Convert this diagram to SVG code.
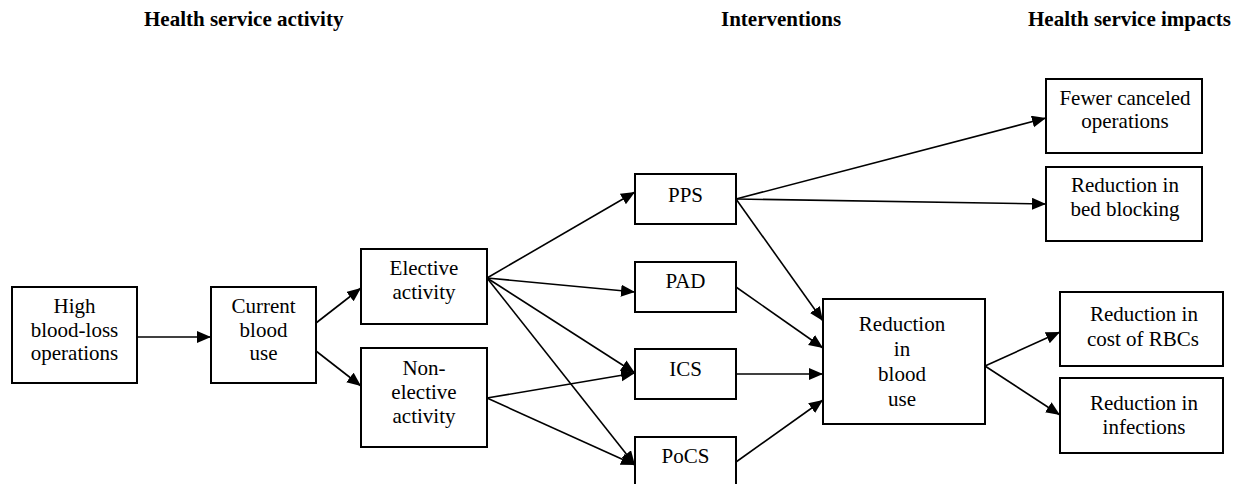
<svg xmlns="http://www.w3.org/2000/svg" width="1244" height="484" viewBox="0 0 1244 484">
<style>
  .box { fill: #fff; stroke: #000; stroke-width: 2; }
  .t { font-family: "Liberation Serif", "Times New Roman", serif; font-size: 21px; fill: #000; text-anchor: middle; }
  .h { font-family: "Liberation Serif", "Times New Roman", serif; font-size: 21px; font-weight: bold; fill: #000; }
  .c { stroke: #000; stroke-width: 1.6; fill: none; marker-end: url(#arr); }
</style>
<defs>
  <marker id="arr" markerUnits="userSpaceOnUse" markerWidth="15" markerHeight="13" refX="14" refY="6" orient="auto">
    <path d="M0,0 L14,6 L0,12 z" fill="#000"/>
  </marker>
</defs>
<rect width="1244" height="484" fill="#fff"/>
<g id="headers">
  <text class="h" x="144" y="26">Health service activity</text>
  <text class="h" x="721" y="26">Interventions</text>
  <text class="h" x="1028" y="26">Health service impacts</text>
</g>
<g id="connectors">
  <line class="c" x1="137" y1="337" x2="211" y2="337"/>
  <line class="c" x1="316" y1="323" x2="361" y2="288"/>
  <line class="c" x1="316" y1="351" x2="361" y2="386"/>
  <line class="c" x1="487" y1="278" x2="635" y2="192"/>
  <line class="c" x1="487" y1="278" x2="635" y2="292"/>
  <line class="c" x1="487" y1="278" x2="635" y2="373"/>
  <line class="c" x1="487" y1="278" x2="635" y2="465"/>
  <line class="c" x1="487" y1="398" x2="635" y2="373"/>
  <line class="c" x1="487" y1="398" x2="635" y2="465"/>
  <line class="c" x1="736" y1="199" x2="1046" y2="118"/>
  <line class="c" x1="736" y1="199" x2="1046" y2="204"/>
  <line class="c" x1="736" y1="199" x2="823" y2="321"/>
  <line class="c" x1="736" y1="287" x2="823" y2="348"/>
  <line class="c" x1="736" y1="374" x2="823" y2="374"/>
  <line class="c" x1="736" y1="462" x2="823" y2="400"/>
  <line class="c" x1="985" y1="366" x2="1060" y2="332"/>
  <line class="c" x1="985" y1="366" x2="1060" y2="415"/>
</g>
<g id="high">
  <rect class="box" x="12" y="287" width="125" height="96"/>
  <text class="t" x="74.5" y="313">High</text>
  <text class="t" x="74.5" y="337">blood-loss</text>
  <text class="t" x="74.5" y="360">operations</text>
</g>
<g id="current">
  <rect class="box" x="211" y="287" width="105" height="96"/>
  <text class="t" x="263.5" y="313">Current</text>
  <text class="t" x="263.5" y="337">blood</text>
  <text class="t" x="263.5" y="360">use</text>
</g>
<g id="elective">
  <rect class="box" x="361" y="249" width="126" height="75"/>
  <text class="t" x="424" y="275">Elective</text>
  <text class="t" x="424" y="299">activity</text>
</g>
<g id="nonelective">
  <rect class="box" x="361" y="348" width="126" height="99"/>
  <text class="t" x="424" y="375">Non-</text>
  <text class="t" x="424" y="399">elective</text>
  <text class="t" x="424" y="423">activity</text>
</g>
<g id="pps">
  <rect class="box" x="635" y="174" width="101" height="50"/>
  <text class="t" x="685.5" y="202">PPS</text>
</g>
<g id="pad">
  <rect class="box" x="635" y="262" width="101" height="50"/>
  <text class="t" x="685.5" y="288">PAD</text>
</g>
<g id="ics">
  <rect class="box" x="635" y="349" width="101" height="50"/>
  <text class="t" x="685.5" y="376">ICS</text>
</g>
<g id="pocs">
  <rect class="box" x="635" y="437" width="101" height="52"/>
  <text class="t" x="685.5" y="463">PoCS</text>
</g>
<g id="reduction">
  <rect class="box" x="823" y="299" width="162" height="125"/>
  <text class="t" x="902" y="331">Reduction</text>
  <text class="t" x="902" y="356">in</text>
  <text class="t" x="902" y="381">blood</text>
  <text class="t" x="902" y="406">use</text>
</g>
<g id="fewer">
  <rect class="box" x="1046" y="79" width="156" height="74"/>
  <text class="t" x="1125" y="105">Fewer canceled</text>
  <text class="t" x="1125" y="128">operations</text>
</g>
<g id="bedblocking">
  <rect class="box" x="1046" y="167" width="156" height="74"/>
  <text class="t" x="1125" y="192">Reduction in</text>
  <text class="t" x="1125" y="216">bed blocking</text>
</g>
<g id="cost">
  <rect class="box" x="1060" y="292" width="163" height="74"/>
  <text class="t" x="1144" y="321">Reduction in</text>
  <text class="t" x="1143" y="346">cost of RBCs</text>
</g>
<g id="infections">
  <rect class="box" x="1060" y="378" width="163" height="75"/>
  <text class="t" x="1144" y="410">Reduction in</text>
  <text class="t" x="1144" y="434">infections</text>
</g>
</svg>
